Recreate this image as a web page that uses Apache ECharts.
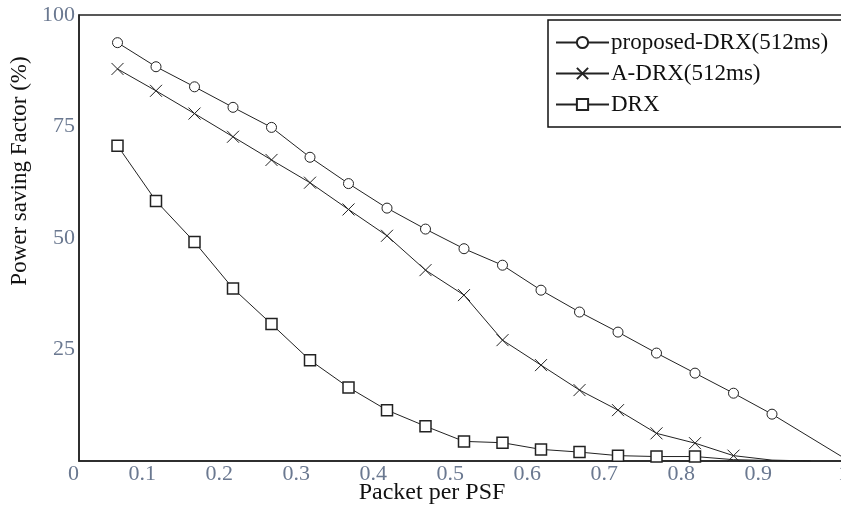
<!DOCTYPE html>
<html>
<head>
<meta charset="utf-8">
<script src="https://cdn.jsdelivr.net/npm/echarts@6/dist/echarts.min.js"></script>
<style>html,body{margin:0;padding:0;background:#fff;}#chart{width:841px;height:505px;}</style>
</head>
<body>
<div id="chart"></div>
<script>
const packetPerPSF = [0.05,0.10,0.15,0.20,0.25,0.30,0.35,0.40,0.45,0.50,0.55,0.60,0.65,0.70,0.75,0.80,0.85,0.90,0.95,1.00];
const proposedDRX = [93.8,88.4,83.9,79.3,74.8,68.1,62.2,56.7,52.0,47.6,43.9,38.3,33.4,28.9,24.2,19.7,15.2,10.5,null,0];
const aDRX = [87.9,83.0,77.9,72.7,67.5,62.4,56.4,50.5,42.8,37.2,27.1,21.5,15.9,11.4,6.2,4.0,1.2,0.2,0,null];
const drx = [70.7,58.3,49.1,38.7,30.7,22.6,16.5,11.4,7.8,4.4,4.1,2.6,2.0,1.2,1.0,1.0,0.3,0.1,0,null];
const xTicks = ['0','0.1','0.2','0.3','0.4','0.5','0.6','0.7','0.8','0.9','1'];
const yTicks = [0,25,50,75,100];
const seriesNames = ['proposed-DRX(512ms)','A-DRX(512ms)','DRX'];

const FONT = 'Liberation Serif';
const pair = arr => packetPerPSF.map((x,i)=>[x,arr[i]]);
const crossPath = 'path://M0,0L10,10M10,0L0,10';
// markers sitting on the x axis are clipped away in the original figure
const sizeFn = s => (v => (v[1] < 0.5 ? 0 : s));

const chart = echarts.init(document.getElementById('chart'));
chart.setOption({
  backgroundColor:'#fff',
  animation:false,
  grid:{left:79, top:15, width:770, height:446, containLabel:false, outerBoundsMode:'none',
    show:true, borderColor:'#222', borderWidth:1.5, backgroundColor:'transparent'},
  title:{text:'Packet per PSF', left:427, top:476, textAlign:'center',
    textStyle:{fontFamily:FONT, fontSize:24, fontWeight:'normal', color:'#111'}},
  legend:{
    orient:'vertical', left:548, top:20,
    padding:[11,40,11,7],
    borderColor:'#111', borderWidth:1.5, backgroundColor:'#fff',
    itemWidth:53, itemHeight:14, itemGap:8,
    textStyle:{fontFamily:FONT, fontSize:23, color:'#111', lineHeight:23, padding:[0,0,0,-3]},
    data:seriesNames
  },
  xAxis:{
    type:'value', min:0, max:1, interval:0.1,
    axisLine:{show:true, lineStyle:{color:'#222', width:1.5}},
    axisTick:{show:false}, splitLine:{show:false},
    axisLabel:{fontFamily:FONT, fontSize:22, color:'#6a7890', margin:2, align:'right',
      formatter:(v)=>xTicks[Math.round(v*10)]}
  },
  yAxis:{
    type:'value', min:yTicks[0], max:yTicks[yTicks.length-1], interval:25,
    name:'Power saving Factor (%)', nameLocation:'middle', nameGap:46, nameRotate:90,
    nameTextStyle:{fontFamily:FONT, fontSize:23, color:'#111', padding:[0,0,0,134]},
    axisLine:{show:true, lineStyle:{color:'#222', width:1.5}},
    axisTick:{show:false}, splitLine:{show:false},
    axisLabel:{fontFamily:FONT, fontSize:22, color:'#6a7890', margin:4, showMinLabel:false}
  },
  series:[
    {name:seriesNames[0], type:'line', data:pair(proposedDRX), connectNulls:true,
      symbol:'circle', symbolSize:10, clip:true,
      lineStyle:{color:'#222', width:1},
      itemStyle:{color:'#fff', borderColor:'#222', borderWidth:1}},
    {name:seriesNames[1], type:'line', data:pair(aDRX),
      symbol:crossPath, symbolSize:sizeFn(12), clip:true,
      lineStyle:{color:'#222', width:1},
      itemStyle:{color:'#222', borderColor:'#222', borderWidth:1}},
    {name:seriesNames[2], type:'line', data:pair(drx),
      symbol:'rect', symbolSize:sizeFn(11), clip:true,
      lineStyle:{color:'#222', width:1},
      itemStyle:{color:'#fff', borderColor:'#222', borderWidth:1.5}}
  ]
});
</script>
</body>
</html>
